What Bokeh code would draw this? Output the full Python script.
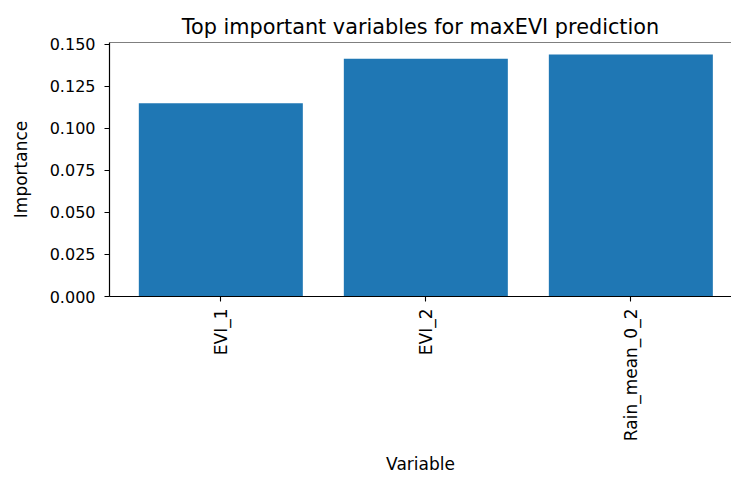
import math
from bokeh.plotting import figure
from bokeh.models import Range1d, FixedTicker, PrintfTickFormatter, ColumnDataSource, Span
from bokeh.embed import file_html
from bokeh.resources import INLINE

variables = ["EVI_1", "EVI_2", "Rain_mean_0_2"]
importance = [0.1149, 0.1413, 0.1438]
y_ticks = [0.0, 0.025, 0.05, 0.075, 0.1, 0.125, 0.15]

FONT = "DejaVu Sans"

positions = list(range(len(variables)))
src = ColumnDataSource(dict(x=positions, imp=importance))
y_top = max(importance) * 1.05

p = figure(
    width=731, height=477,
    x_range=Range1d(-0.543, len(variables) - 1 + 0.491),
    y_range=Range1d(0, y_top),
    output_backend="svg", toolbar_location=None,
    title="Top important variables for maxEVI prediction",
    min_border_left=109, min_border_right=0, min_border_top=42, min_border_bottom=181,
)
p.vbar(x="x", top="imp", width=0.8, source=src, fill_color="#1f77b4", line_color=None)

p.title.align = "center"
p.title.text_font = FONT
p.title.text_font_style = "normal"
p.title.text_font_size = "20.8px"
p.title.text_color = "black"
p.title.offset = 4
p.title.standoff = 8

p.xgrid.visible = False
p.ygrid.visible = False
p.outline_line_color = None

p.add_layout(Span(location=y_top, dimension="width", line_color="black", line_width=1.2))

xaxis = p.below[0]
yaxis = p.left[0]

for ax in (xaxis, yaxis):
    ax.axis_line_color = "black"
    ax.axis_line_width = 1.2
    ax.major_tick_line_color = "black"
    ax.major_tick_line_width = 1.1
    ax.major_tick_out = 5
    ax.major_tick_in = 0
    ax.minor_tick_line_color = None
    ax.major_label_text_font = FONT
    ax.major_label_text_font_size = "16px"
    ax.major_label_text_color = "black"
    ax.axis_label_text_font = FONT
    ax.axis_label_text_font_size = "17px"
    ax.axis_label_text_font_style = "normal"
    ax.axis_label_text_color = "black"

yaxis.ticker = FixedTicker(ticks=y_ticks)
yaxis.formatter = PrintfTickFormatter(format="%.3f")
yaxis.axis_label = "Importance"
yaxis.major_label_standoff = 9
yaxis.axis_label_standoff = 16

xaxis.ticker = FixedTicker(ticks=positions)
xaxis.major_label_overrides = {i: v for i, v in zip(positions, variables)}
xaxis.axis_label = "Variable"
xaxis.major_label_orientation = math.pi / 2
xaxis.major_label_text_font_size = "17px"
xaxis.major_label_standoff = 7
xaxis.axis_label_standoff = 10

open("out.html", "w").write(file_html(p, INLINE))
